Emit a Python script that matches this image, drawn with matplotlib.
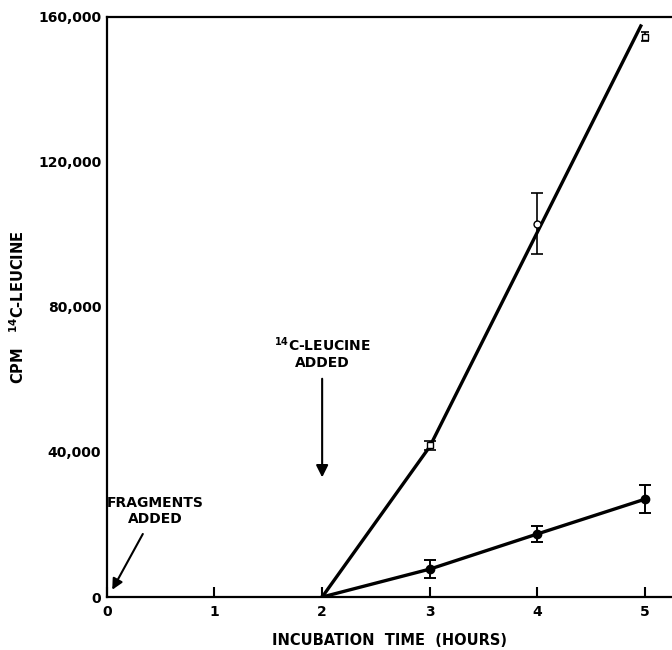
#!/usr/bin/env python3
"""Incorporation of 14C-leucine into fragments over incubation time."""

import matplotlib

matplotlib.use("Agg")
import matplotlib.pyplot as plt

# upper curve (open symbols)
open_hours = [3, 4, 5]
open_cpm = [41800, 103000, 154500]
open_err = [1200, 8500, 1200]
open_fit_hours = [2, 3, 4.96]
open_fit_cpm = [0, 41500, 157500]

# lower curve (filled circles)
filled_hours = [2, 3, 4, 5]
filled_cpm = [0, 7700, 17400, 27000]
filled_err = [0, 2500, 2300, 3900]

x_ticks = [0, 1, 2, 3, 4, 5]
y_ticks = [0, 40000, 80000, 120000, 160000]
y_tick_labels = ["0", "40,000", "80,000", "120,000", "160,000"]

plt.rcParams["font.family"] = "DejaVu Sans"
plt.rcParams["font.weight"] = "bold"
plt.rcParams["mathtext.default"] = "bf"

fig = plt.figure(figsize=(6.72, 6.5), dpi=100)
ax = fig.add_axes([0.159, 0.0815, 0.841, 0.8925])

ax.plot(open_fit_hours, open_fit_cpm, color="black", linewidth=2.4)
ax.plot(filled_hours, filled_cpm, color="black", linewidth=2.4)

ax.errorbar(open_hours[0:1], open_cpm[0:1], yerr=open_err[0:1], fmt="s",
            mfc="white", mec="black", ms=5, ecolor="black", elinewidth=1.2,
            capsize=4, capthick=1.2, zorder=3)
ax.errorbar(open_hours[1:2], open_cpm[1:2], yerr=open_err[1:2], fmt="o",
            mfc="white", mec="black", ms=5, ecolor="black", elinewidth=1.2,
            capsize=4, capthick=1.2, zorder=3)
ax.errorbar(open_hours[2:], open_cpm[2:], yerr=open_err[2:], fmt="s",
            mfc="white", mec="black", ms=4, ecolor="black", elinewidth=1.2,
            capsize=3, capthick=1.2, zorder=3)
ax.errorbar(filled_hours[1:], filled_cpm[1:], yerr=filled_err[1:], fmt="o",
            color="black", ms=6, elinewidth=1.4, capsize=4, capthick=1.4,
            zorder=3)

ax.set_xlim(0, 5.25)
ax.set_ylim(0, 160000)
ax.set_xticks(x_ticks)
ax.set_yticks(y_ticks)
ax.set_yticklabels(y_tick_labels)
ax.tick_params(axis="x", direction="in", length=7, width=1.5, labelsize=10, pad=6)
ax.tick_params(axis="y", direction="in", length=0, labelsize=10, pad=4)
for side in ("left", "bottom", "top"):
    ax.spines[side].set_linewidth(1.6)
ax.spines["right"].set_visible(False)

ax.set_xlabel("INCUBATION  TIME  (HOURS)", fontsize=10.5, fontweight="bold", labelpad=10)
ax.set_ylabel("CPM   $^{14}$C-LEUCINE", fontsize=10.5, fontweight="bold", labelpad=8)

ax.annotate("$^{14}$C-LEUCINE\nADDED", xy=(2, 33000), xytext=(2.0, 62500),
            ha="center", va="bottom", fontsize=10, fontweight="bold",
            arrowprops=dict(arrowstyle="-|>", color="black", lw=1.5,
                            mutation_scale=18, shrinkA=4, shrinkB=0))
ax.annotate("FRAGMENTS\nADDED", xy=(0.05, 2000), xytext=(0.45, 19500),
            ha="center", va="bottom", fontsize=10, fontweight="bold",
            arrowprops=dict(arrowstyle="-|>", color="black", lw=1.5,
                            mutation_scale=16, shrinkA=4, shrinkB=0))

fig.savefig("out.png", dpi=100)
